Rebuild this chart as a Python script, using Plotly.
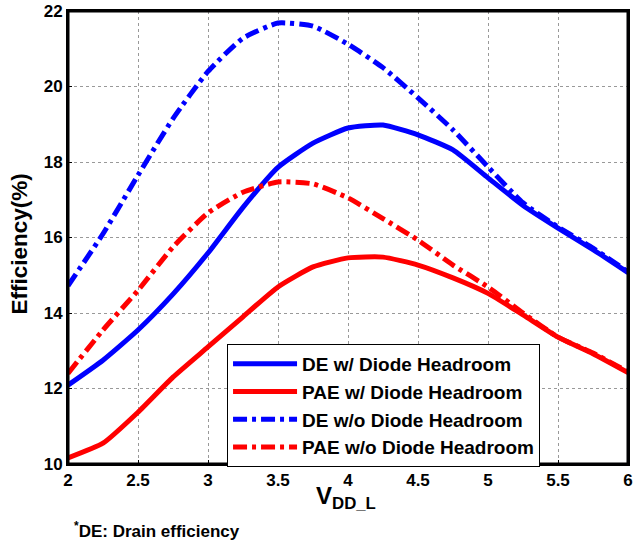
import plotly.graph_objects as go

vdd = [2.0, 2.25, 2.5, 2.75, 3.0, 3.25, 3.5, 3.75, 4.0, 4.25, 4.5, 4.75, 5.0, 5.25, 5.5, 5.75, 6.0]

de_wo = [14.72, 16.1, 17.65, 19.15, 20.4, 21.28, 21.68, 21.6, 21.12, 20.5, 19.7, 18.85, 17.87, 16.92, 16.28, 15.72, 15.09]
de_w = [12.09, 12.75, 13.55, 14.5, 15.59, 16.8, 17.86, 18.5, 18.9, 18.98, 18.72, 18.32, 17.58, 16.85, 16.25, 15.68, 15.07]
pae_wo = [12.4, 13.55, 14.6, 15.75, 16.65, 17.2, 17.47, 17.42, 17.05, 16.5, 15.93, 15.27, 14.69, 14.0, 13.36, 12.94, 12.44]
pae_w = [10.16, 10.55, 11.37, 12.3, 13.1, 13.9, 14.69, 15.22, 15.46, 15.48, 15.27, 14.93, 14.52, 13.95, 13.36, 12.92, 12.42]

names = ["DE w/ Diode Headroom", "PAE w/ Diode Headroom",
         "DE w/o Diode Headroom", "PAE w/o Diode Headroom"]

x_ticks = [2, 2.5, 3, 3.5, 4, 4.5, 5, 5.5, 6]
x_tick_text = ["2", "2.5", "3", "3.5", "4", "4.5", "5", "5.5", "6"]
y_ticks = [10, 12, 14, 16, 18, 20, 22]

DASHDOT = "14px,5px,4px,5px"
FONT = "Liberation Sans"

fig = go.Figure()
series = [(de_w, "#0000ff", "solid"), (pae_w, "#ff0000", "solid"),
          (de_wo, "#0000ff", DASHDOT), (pae_wo, "#ff0000", DASHDOT)]
for (vals, col, dash), nm in zip(series, names):
    fig.add_trace(go.Scatter(x=vdd, y=vals, mode="lines", name=nm,
                             line=dict(color=col, width=5, dash=dash, shape="spline", smoothing=0.5)))

axis_common = dict(showline=True, linecolor="#000001", linewidth=2, mirror=True,
                   ticks="inside", ticklen=4, tickcolor="black",
                   showgrid=True, gridcolor="#999999", griddash="dot", gridwidth=1,
                   zeroline=False, automargin=False, ticklabeloverflow="allow",
                   tickfont=dict(family=FONT, size=17, color="black", weight="bold"))

fig.update_xaxes(range=[2, 6], tickvals=x_ticks, ticktext=x_tick_text, **axis_common)
fig.update_yaxes(range=[10, 22], tickvals=y_ticks, **axis_common)

# plot frame, drawn as four edge lines
for x0, y0, x1, y1 in [(0, 0, 1, 0), (0, 1, 1, 1), (0, 0, 0, 1), (1, 0, 1, 1)]:
    fig.add_shape(type="line", xref="paper", yref="paper", x0=x0, y0=y0, x1=x1, y1=y1,
                  line=dict(color="#000001", width=3), layer="above")

# axis titles
fig.add_annotation(xref="paper", yref="paper", x=0.497, y=-0.075, xanchor="center", yanchor="middle",
                   showarrow=False, text="<b>V<sub>DD_L</sub></b>",
                   font=dict(family=FONT, size=24, color="black"))
fig.add_annotation(xref="paper", yref="paper", x=-0.087, y=0.485, xanchor="center", yanchor="middle",
                   showarrow=False, textangle=-90, text="<b>Efficiency(%)</b>",
                   font=dict(family=FONT, size=22.5, color="black"))

fig.add_annotation(xref="paper", yref="paper", x=0.007, y=-0.1457, xanchor="left", yanchor="middle",
                   showarrow=False, text="<b><sup>*</sup>DE: Drain efficiency</b>",
                   font=dict(family=FONT, size=17, color="black"))

fig.update_layout(
    width=636, height=545,
    margin=dict(l=68, r=8, t=11, b=81, autoexpand=False),
    plot_bgcolor="white", paper_bgcolor="white",
    legend=dict(x=0.284, y=0.265, xanchor="left", yanchor="top",
                bgcolor="white", bordercolor="black", borderwidth=1,
                font=dict(family=FONT, size=19, color="black", weight="bold"),
                itemwidth=64, tracegroupgap=0),
    showlegend=True,
)

fig.write_html("out.html", config={"displayModeBar": False},
               post_script="document.body.style.margin='0px';")
